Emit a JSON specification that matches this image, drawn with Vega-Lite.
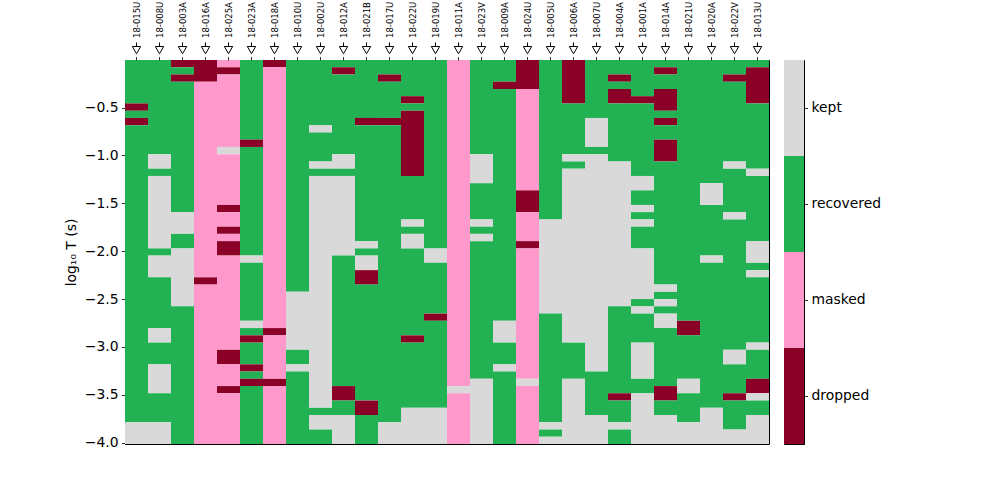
{
"$schema": "https://vega.github.io/schema/vega-lite/v6.json",
"background": "white",
"padding": {"left": 63, "top": 0, "right": 5, "bottom": 5},
"config": {"font": "DejaVu Sans", "view": {"stroke": "black", "strokeWidth": 1},
  "axis": {"domain": false, "grid": false, "tickColor": "black", "tickWidth": 0.8, "tickSize": 3.5, "labelColor": "black", "titleColor": "black", "labelFont": "DejaVu Sans", "titleFont": "DejaVu Sans"},
  "concat": {"spacing": 13}},
"datasets": {
"cols": [{"c":"18-015U"},{"c":"18-008U"},{"c":"18-003A"},{"c":"18-016A"},{"c":"18-025A"},{"c":"18-023A"},{"c":"18-018A"},{"c":"18-010U"},{"c":"18-002U"},{"c":"18-012A"},{"c":"18-021B"},{"c":"18-017U"},{"c":"18-022U"},{"c":"18-019U"},{"c":"18-011A"},{"c":"18-023V"},{"c":"18-009A"},{"c":"18-024U"},{"c":"18-005U"},{"c":"18-006A"},{"c":"18-007U"},{"c":"18-004A"},{"c":"18-001A"},{"c":"18-014A"},{"c":"18-021U"},{"c":"18-020A"},{"c":"18-022V"},{"c":"18-013U"}],
"cats": [{"s":"kept"},{"s":"recovered"},{"s":"masked"},{"s":"dropped"}],
"cells": [
{"c":"18-015U","t":-0.003,"b":-0.457,"s":"recovered"},
{"c":"18-015U","t":-0.457,"b":-0.533,"s":"dropped"},
{"c":"18-015U","t":-0.533,"b":-0.608,"s":"recovered"},
{"c":"18-015U","t":-0.608,"b":-0.684,"s":"dropped"},
{"c":"18-015U","t":-0.684,"b":-3.787,"s":"recovered"},
{"c":"18-015U","t":-3.787,"b":-4.014,"s":"kept"},
{"c":"18-008U","t":-0.003,"b":-0.987,"s":"recovered"},
{"c":"18-008U","t":-0.987,"b":-1.138,"s":"kept"},
{"c":"18-008U","t":-1.138,"b":-1.214,"s":"recovered"},
{"c":"18-008U","t":-1.214,"b":-1.971,"s":"kept"},
{"c":"18-008U","t":-1.971,"b":-2.046,"s":"recovered"},
{"c":"18-008U","t":-2.046,"b":-2.273,"s":"kept"},
{"c":"18-008U","t":-2.273,"b":-2.803,"s":"recovered"},
{"c":"18-008U","t":-2.803,"b":-2.955,"s":"kept"},
{"c":"18-008U","t":-2.955,"b":-3.182,"s":"recovered"},
{"c":"18-008U","t":-3.182,"b":-3.484,"s":"kept"},
{"c":"18-008U","t":-3.484,"b":-3.787,"s":"recovered"},
{"c":"18-008U","t":-3.787,"b":-4.014,"s":"kept"},
{"c":"18-003A","t":-0.003,"b":-0.079,"s":"dropped"},
{"c":"18-003A","t":-0.079,"b":-0.154,"s":"recovered"},
{"c":"18-003A","t":-0.154,"b":-0.230,"s":"dropped"},
{"c":"18-003A","t":-0.230,"b":-1.592,"s":"recovered"},
{"c":"18-003A","t":-1.592,"b":-1.819,"s":"kept"},
{"c":"18-003A","t":-1.819,"b":-1.971,"s":"recovered"},
{"c":"18-003A","t":-1.971,"b":-2.576,"s":"kept"},
{"c":"18-003A","t":-2.576,"b":-4.014,"s":"recovered"},
{"c":"18-016A","t":-0.003,"b":-0.230,"s":"dropped"},
{"c":"18-016A","t":-0.230,"b":-2.273,"s":"masked"},
{"c":"18-016A","t":-2.273,"b":-2.349,"s":"dropped"},
{"c":"18-016A","t":-2.349,"b":-4.014,"s":"masked"},
{"c":"18-025A","t":-0.003,"b":-0.079,"s":"masked"},
{"c":"18-025A","t":-0.079,"b":-0.154,"s":"dropped"},
{"c":"18-025A","t":-0.154,"b":-0.911,"s":"masked"},
{"c":"18-025A","t":-0.911,"b":-0.987,"s":"kept"},
{"c":"18-025A","t":-0.987,"b":-1.517,"s":"masked"},
{"c":"18-025A","t":-1.517,"b":-1.592,"s":"dropped"},
{"c":"18-025A","t":-1.592,"b":-1.744,"s":"masked"},
{"c":"18-025A","t":-1.744,"b":-1.819,"s":"dropped"},
{"c":"18-025A","t":-1.819,"b":-1.895,"s":"masked"},
{"c":"18-025A","t":-1.895,"b":-2.046,"s":"dropped"},
{"c":"18-025A","t":-2.046,"b":-3.030,"s":"masked"},
{"c":"18-025A","t":-3.030,"b":-3.182,"s":"dropped"},
{"c":"18-025A","t":-3.182,"b":-3.409,"s":"masked"},
{"c":"18-025A","t":-3.409,"b":-3.484,"s":"dropped"},
{"c":"18-025A","t":-3.484,"b":-4.014,"s":"masked"},
{"c":"18-023A","t":-0.003,"b":-0.835,"s":"recovered"},
{"c":"18-023A","t":-0.835,"b":-0.911,"s":"dropped"},
{"c":"18-023A","t":-0.911,"b":-2.046,"s":"recovered"},
{"c":"18-023A","t":-2.046,"b":-2.122,"s":"kept"},
{"c":"18-023A","t":-2.122,"b":-2.727,"s":"recovered"},
{"c":"18-023A","t":-2.727,"b":-2.803,"s":"kept"},
{"c":"18-023A","t":-2.803,"b":-2.879,"s":"recovered"},
{"c":"18-023A","t":-2.879,"b":-2.955,"s":"dropped"},
{"c":"18-023A","t":-2.955,"b":-3.182,"s":"recovered"},
{"c":"18-023A","t":-3.182,"b":-3.257,"s":"dropped"},
{"c":"18-023A","t":-3.257,"b":-3.333,"s":"recovered"},
{"c":"18-023A","t":-3.333,"b":-3.409,"s":"dropped"},
{"c":"18-023A","t":-3.409,"b":-4.014,"s":"recovered"},
{"c":"18-018A","t":-0.003,"b":-0.079,"s":"dropped"},
{"c":"18-018A","t":-0.079,"b":-2.803,"s":"masked"},
{"c":"18-018A","t":-2.803,"b":-2.879,"s":"dropped"},
{"c":"18-018A","t":-2.879,"b":-3.333,"s":"masked"},
{"c":"18-018A","t":-3.333,"b":-3.409,"s":"dropped"},
{"c":"18-018A","t":-3.409,"b":-4.014,"s":"masked"},
{"c":"18-010U","t":-0.003,"b":-2.425,"s":"recovered"},
{"c":"18-010U","t":-2.425,"b":-3.030,"s":"kept"},
{"c":"18-010U","t":-3.030,"b":-3.182,"s":"recovered"},
{"c":"18-010U","t":-3.182,"b":-3.257,"s":"kept"},
{"c":"18-010U","t":-3.257,"b":-4.014,"s":"recovered"},
{"c":"18-002U","t":-0.003,"b":-0.684,"s":"recovered"},
{"c":"18-002U","t":-0.684,"b":-0.760,"s":"kept"},
{"c":"18-002U","t":-0.760,"b":-1.063,"s":"recovered"},
{"c":"18-002U","t":-1.063,"b":-1.138,"s":"kept"},
{"c":"18-002U","t":-1.138,"b":-1.214,"s":"recovered"},
{"c":"18-002U","t":-1.214,"b":-3.636,"s":"kept"},
{"c":"18-002U","t":-3.636,"b":-3.711,"s":"recovered"},
{"c":"18-002U","t":-3.711,"b":-3.863,"s":"kept"},
{"c":"18-002U","t":-3.863,"b":-4.014,"s":"recovered"},
{"c":"18-012A","t":-0.003,"b":-0.079,"s":"recovered"},
{"c":"18-012A","t":-0.079,"b":-0.154,"s":"dropped"},
{"c":"18-012A","t":-0.154,"b":-0.987,"s":"recovered"},
{"c":"18-012A","t":-0.987,"b":-1.138,"s":"kept"},
{"c":"18-012A","t":-1.138,"b":-1.214,"s":"recovered"},
{"c":"18-012A","t":-1.214,"b":-2.046,"s":"kept"},
{"c":"18-012A","t":-2.046,"b":-3.409,"s":"recovered"},
{"c":"18-012A","t":-3.409,"b":-3.560,"s":"dropped"},
{"c":"18-012A","t":-3.560,"b":-3.711,"s":"recovered"},
{"c":"18-012A","t":-3.711,"b":-4.014,"s":"kept"},
{"c":"18-021B","t":-0.003,"b":-0.608,"s":"recovered"},
{"c":"18-021B","t":-0.608,"b":-0.684,"s":"dropped"},
{"c":"18-021B","t":-0.684,"b":-1.895,"s":"recovered"},
{"c":"18-021B","t":-1.895,"b":-1.971,"s":"kept"},
{"c":"18-021B","t":-1.971,"b":-2.046,"s":"recovered"},
{"c":"18-021B","t":-2.046,"b":-2.198,"s":"kept"},
{"c":"18-021B","t":-2.198,"b":-2.349,"s":"dropped"},
{"c":"18-021B","t":-2.349,"b":-3.560,"s":"recovered"},
{"c":"18-021B","t":-3.560,"b":-3.711,"s":"dropped"},
{"c":"18-021B","t":-3.711,"b":-4.014,"s":"recovered"},
{"c":"18-017U","t":-0.003,"b":-0.154,"s":"recovered"},
{"c":"18-017U","t":-0.154,"b":-0.230,"s":"dropped"},
{"c":"18-017U","t":-0.230,"b":-0.608,"s":"recovered"},
{"c":"18-017U","t":-0.608,"b":-0.684,"s":"dropped"},
{"c":"18-017U","t":-0.684,"b":-3.787,"s":"recovered"},
{"c":"18-017U","t":-3.787,"b":-4.014,"s":"kept"},
{"c":"18-022U","t":-0.003,"b":-0.381,"s":"recovered"},
{"c":"18-022U","t":-0.381,"b":-0.457,"s":"dropped"},
{"c":"18-022U","t":-0.457,"b":-0.533,"s":"recovered"},
{"c":"18-022U","t":-0.533,"b":-1.214,"s":"dropped"},
{"c":"18-022U","t":-1.214,"b":-1.668,"s":"recovered"},
{"c":"18-022U","t":-1.668,"b":-1.744,"s":"kept"},
{"c":"18-022U","t":-1.744,"b":-1.819,"s":"recovered"},
{"c":"18-022U","t":-1.819,"b":-1.971,"s":"kept"},
{"c":"18-022U","t":-1.971,"b":-2.879,"s":"recovered"},
{"c":"18-022U","t":-2.879,"b":-2.955,"s":"dropped"},
{"c":"18-022U","t":-2.955,"b":-3.636,"s":"recovered"},
{"c":"18-022U","t":-3.636,"b":-4.014,"s":"kept"},
{"c":"18-019U","t":-0.003,"b":-1.971,"s":"recovered"},
{"c":"18-019U","t":-1.971,"b":-2.122,"s":"kept"},
{"c":"18-019U","t":-2.122,"b":-2.652,"s":"recovered"},
{"c":"18-019U","t":-2.652,"b":-2.727,"s":"dropped"},
{"c":"18-019U","t":-2.727,"b":-3.636,"s":"recovered"},
{"c":"18-019U","t":-3.636,"b":-4.014,"s":"kept"},
{"c":"18-011A","t":-0.003,"b":-3.409,"s":"masked"},
{"c":"18-011A","t":-3.409,"b":-3.484,"s":"kept"},
{"c":"18-011A","t":-3.484,"b":-4.014,"s":"masked"},
{"c":"18-023V","t":-0.003,"b":-0.987,"s":"recovered"},
{"c":"18-023V","t":-0.987,"b":-1.290,"s":"kept"},
{"c":"18-023V","t":-1.290,"b":-1.668,"s":"recovered"},
{"c":"18-023V","t":-1.668,"b":-1.744,"s":"kept"},
{"c":"18-023V","t":-1.744,"b":-1.819,"s":"recovered"},
{"c":"18-023V","t":-1.819,"b":-1.895,"s":"kept"},
{"c":"18-023V","t":-1.895,"b":-3.333,"s":"recovered"},
{"c":"18-023V","t":-3.333,"b":-4.014,"s":"kept"},
{"c":"18-009A","t":-0.003,"b":-0.230,"s":"recovered"},
{"c":"18-009A","t":-0.230,"b":-0.306,"s":"dropped"},
{"c":"18-009A","t":-0.306,"b":-2.727,"s":"recovered"},
{"c":"18-009A","t":-2.727,"b":-2.955,"s":"kept"},
{"c":"18-009A","t":-2.955,"b":-3.182,"s":"recovered"},
{"c":"18-009A","t":-3.182,"b":-3.257,"s":"kept"},
{"c":"18-009A","t":-3.257,"b":-4.014,"s":"recovered"},
{"c":"18-024U","t":-0.003,"b":-0.306,"s":"dropped"},
{"c":"18-024U","t":-0.306,"b":-1.365,"s":"masked"},
{"c":"18-024U","t":-1.365,"b":-1.592,"s":"dropped"},
{"c":"18-024U","t":-1.592,"b":-1.895,"s":"masked"},
{"c":"18-024U","t":-1.895,"b":-1.971,"s":"dropped"},
{"c":"18-024U","t":-1.971,"b":-3.333,"s":"masked"},
{"c":"18-024U","t":-3.333,"b":-3.409,"s":"kept"},
{"c":"18-024U","t":-3.409,"b":-4.014,"s":"masked"},
{"c":"18-005U","t":-0.003,"b":-1.668,"s":"recovered"},
{"c":"18-005U","t":-1.668,"b":-2.652,"s":"kept"},
{"c":"18-005U","t":-2.652,"b":-3.787,"s":"recovered"},
{"c":"18-005U","t":-3.787,"b":-3.863,"s":"kept"},
{"c":"18-005U","t":-3.863,"b":-3.938,"s":"recovered"},
{"c":"18-005U","t":-3.938,"b":-4.014,"s":"kept"},
{"c":"18-006A","t":-0.003,"b":-0.457,"s":"dropped"},
{"c":"18-006A","t":-0.457,"b":-0.987,"s":"recovered"},
{"c":"18-006A","t":-0.987,"b":-1.063,"s":"kept"},
{"c":"18-006A","t":-1.063,"b":-1.138,"s":"recovered"},
{"c":"18-006A","t":-1.138,"b":-2.955,"s":"kept"},
{"c":"18-006A","t":-2.955,"b":-3.333,"s":"recovered"},
{"c":"18-006A","t":-3.333,"b":-4.014,"s":"kept"},
{"c":"18-007U","t":-0.003,"b":-0.608,"s":"recovered"},
{"c":"18-007U","t":-0.608,"b":-0.911,"s":"kept"},
{"c":"18-007U","t":-0.911,"b":-0.987,"s":"recovered"},
{"c":"18-007U","t":-0.987,"b":-3.257,"s":"kept"},
{"c":"18-007U","t":-3.257,"b":-3.711,"s":"recovered"},
{"c":"18-007U","t":-3.711,"b":-4.014,"s":"kept"},
{"c":"18-004A","t":-0.003,"b":-0.154,"s":"recovered"},
{"c":"18-004A","t":-0.154,"b":-0.230,"s":"dropped"},
{"c":"18-004A","t":-0.230,"b":-0.306,"s":"recovered"},
{"c":"18-004A","t":-0.306,"b":-0.457,"s":"dropped"},
{"c":"18-004A","t":-0.457,"b":-1.063,"s":"recovered"},
{"c":"18-004A","t":-1.063,"b":-2.576,"s":"kept"},
{"c":"18-004A","t":-2.576,"b":-3.484,"s":"recovered"},
{"c":"18-004A","t":-3.484,"b":-3.560,"s":"dropped"},
{"c":"18-004A","t":-3.560,"b":-3.787,"s":"recovered"},
{"c":"18-004A","t":-3.787,"b":-3.863,"s":"kept"},
{"c":"18-004A","t":-3.863,"b":-4.014,"s":"recovered"},
{"c":"18-001A","t":-0.003,"b":-0.381,"s":"recovered"},
{"c":"18-001A","t":-0.381,"b":-0.457,"s":"dropped"},
{"c":"18-001A","t":-0.457,"b":-1.214,"s":"recovered"},
{"c":"18-001A","t":-1.214,"b":-1.365,"s":"kept"},
{"c":"18-001A","t":-1.365,"b":-1.517,"s":"recovered"},
{"c":"18-001A","t":-1.517,"b":-1.592,"s":"kept"},
{"c":"18-001A","t":-1.592,"b":-1.668,"s":"recovered"},
{"c":"18-001A","t":-1.668,"b":-1.744,"s":"kept"},
{"c":"18-001A","t":-1.744,"b":-1.971,"s":"recovered"},
{"c":"18-001A","t":-1.971,"b":-2.500,"s":"kept"},
{"c":"18-001A","t":-2.500,"b":-2.576,"s":"recovered"},
{"c":"18-001A","t":-2.576,"b":-2.652,"s":"kept"},
{"c":"18-001A","t":-2.652,"b":-2.955,"s":"recovered"},
{"c":"18-001A","t":-2.955,"b":-3.333,"s":"kept"},
{"c":"18-001A","t":-3.333,"b":-3.484,"s":"recovered"},
{"c":"18-001A","t":-3.484,"b":-4.014,"s":"kept"},
{"c":"18-014A","t":-0.003,"b":-0.079,"s":"recovered"},
{"c":"18-014A","t":-0.079,"b":-0.154,"s":"dropped"},
{"c":"18-014A","t":-0.154,"b":-0.306,"s":"recovered"},
{"c":"18-014A","t":-0.306,"b":-0.533,"s":"dropped"},
{"c":"18-014A","t":-0.533,"b":-0.608,"s":"recovered"},
{"c":"18-014A","t":-0.608,"b":-0.684,"s":"dropped"},
{"c":"18-014A","t":-0.684,"b":-0.835,"s":"recovered"},
{"c":"18-014A","t":-0.835,"b":-1.063,"s":"dropped"},
{"c":"18-014A","t":-1.063,"b":-2.349,"s":"recovered"},
{"c":"18-014A","t":-2.349,"b":-2.425,"s":"kept"},
{"c":"18-014A","t":-2.425,"b":-2.500,"s":"recovered"},
{"c":"18-014A","t":-2.500,"b":-2.576,"s":"kept"},
{"c":"18-014A","t":-2.576,"b":-2.652,"s":"recovered"},
{"c":"18-014A","t":-2.652,"b":-2.803,"s":"kept"},
{"c":"18-014A","t":-2.803,"b":-3.409,"s":"recovered"},
{"c":"18-014A","t":-3.409,"b":-3.560,"s":"dropped"},
{"c":"18-014A","t":-3.560,"b":-3.711,"s":"recovered"},
{"c":"18-014A","t":-3.711,"b":-4.014,"s":"kept"},
{"c":"18-021U","t":-0.003,"b":-2.727,"s":"recovered"},
{"c":"18-021U","t":-2.727,"b":-2.879,"s":"dropped"},
{"c":"18-021U","t":-2.879,"b":-3.333,"s":"recovered"},
{"c":"18-021U","t":-3.333,"b":-3.484,"s":"kept"},
{"c":"18-021U","t":-3.484,"b":-3.787,"s":"recovered"},
{"c":"18-021U","t":-3.787,"b":-4.014,"s":"kept"},
{"c":"18-020A","t":-0.003,"b":-1.290,"s":"recovered"},
{"c":"18-020A","t":-1.290,"b":-1.517,"s":"kept"},
{"c":"18-020A","t":-1.517,"b":-2.046,"s":"recovered"},
{"c":"18-020A","t":-2.046,"b":-2.122,"s":"kept"},
{"c":"18-020A","t":-2.122,"b":-3.636,"s":"recovered"},
{"c":"18-020A","t":-3.636,"b":-4.014,"s":"kept"},
{"c":"18-022V","t":-0.003,"b":-0.154,"s":"recovered"},
{"c":"18-022V","t":-0.154,"b":-0.230,"s":"dropped"},
{"c":"18-022V","t":-0.230,"b":-1.063,"s":"recovered"},
{"c":"18-022V","t":-1.063,"b":-1.138,"s":"kept"},
{"c":"18-022V","t":-1.138,"b":-1.592,"s":"recovered"},
{"c":"18-022V","t":-1.592,"b":-1.668,"s":"kept"},
{"c":"18-022V","t":-1.668,"b":-3.030,"s":"recovered"},
{"c":"18-022V","t":-3.030,"b":-3.182,"s":"kept"},
{"c":"18-022V","t":-3.182,"b":-3.484,"s":"recovered"},
{"c":"18-022V","t":-3.484,"b":-3.560,"s":"dropped"},
{"c":"18-022V","t":-3.560,"b":-3.863,"s":"recovered"},
{"c":"18-022V","t":-3.863,"b":-4.014,"s":"kept"},
{"c":"18-013U","t":-0.003,"b":-0.079,"s":"recovered"},
{"c":"18-013U","t":-0.079,"b":-0.457,"s":"dropped"},
{"c":"18-013U","t":-0.457,"b":-1.138,"s":"recovered"},
{"c":"18-013U","t":-1.138,"b":-1.214,"s":"kept"},
{"c":"18-013U","t":-1.214,"b":-1.895,"s":"recovered"},
{"c":"18-013U","t":-1.895,"b":-2.122,"s":"kept"},
{"c":"18-013U","t":-2.122,"b":-2.198,"s":"recovered"},
{"c":"18-013U","t":-2.198,"b":-2.273,"s":"kept"},
{"c":"18-013U","t":-2.273,"b":-2.955,"s":"recovered"},
{"c":"18-013U","t":-2.955,"b":-3.030,"s":"kept"},
{"c":"18-013U","t":-3.030,"b":-3.333,"s":"recovered"},
{"c":"18-013U","t":-3.333,"b":-3.484,"s":"dropped"},
{"c":"18-013U","t":-3.484,"b":-3.560,"s":"kept"},
{"c":"18-013U","t":-3.560,"b":-3.711,"s":"recovered"},
{"c":"18-013U","t":-3.711,"b":-4.014,"s":"kept"}
]},
"hconcat": [
{
"width": 644, "height": 384,
"layer": [
{"data": {"name": "cells"},
 "mark": {"type": "rect", "clip": true},
 "encoding": {
  "x": {"field": "c", "type": "nominal",
    "scale": {"domain": ["18-015U","18-008U","18-003A","18-016A","18-025A","18-023A","18-018A","18-010U","18-002U","18-012A","18-021B","18-017U","18-022U","18-019U","18-011A","18-023V","18-009A","18-024U","18-005U","18-006A","18-007U","18-004A","18-001A","18-014A","18-021U","18-020A","18-022V","18-013U"], "paddingInner": 0, "paddingOuter": 0},
    "axis": {"orient": "top", "title": null, "labelAngle": -90, "labelFontSize": 8.5, "labelPadding": 19, "tickSize": 3.5}},
  "y": {"field": "t", "type": "quantitative",
    "scale": {"domain": [-4.014, -0.003], "nice": false, "zero": false},
    "axis": {"values": [-0.5, -1, -1.5, -2, -2.5, -3, -3.5, -4], "format": ".1f", "labelFontSize": 13.9, "labelPadding": 3.5, "title": "log₁₀ T (s)", "titleFontSize": 13.9, "titleFontWeight": "normal", "titlePadding": 6}},
  "y2": {"field": "b"},
  "color": {"field": "s", "type": "nominal",
    "scale": {"domain": ["dropped", "masked", "recovered", "kept"], "range": ["#8b0026", "#ff99cc", "#22b254", "#d9d9d9"]},
    "legend": null}
 }},
{"data": {"name": "cols"},
 "mark": {"type": "rule", "color": "black", "strokeWidth": 1},
 "encoding": {"x": {"field": "c", "type": "nominal"}, "y": {"datum": 0.14}, "y2": {"datum": 0.18}}},
{"data": {"name": "cols"},
 "mark": {"type": "point", "shape": "triangle-down", "filled": true, "fill": "white", "stroke": "black", "strokeWidth": 1, "size": 70, "opacity": 1},
 "encoding": {"x": {"field": "c", "type": "nominal"}, "y": {"datum": 0.1}}}
]
},
{
"width": 20, "height": 384,
"data": {"name": "cats"},
"mark": {"type": "rect"},
"encoding": {
  "y": {"field": "s", "type": "nominal", "sort": ["kept", "recovered", "masked", "dropped"],
    "scale": {"paddingInner": 0, "paddingOuter": 0},
    "axis": {"orient": "right", "title": null, "labelFontSize": 13.9, "labelPadding": 3.5, "tickSize": 3.5}},
  "color": {"field": "s", "type": "nominal",
    "scale": {"domain": ["dropped", "masked", "recovered", "kept"], "range": ["#8b0026", "#ff99cc", "#22b254", "#d9d9d9"]},
    "legend": null}
}
}
]
}
